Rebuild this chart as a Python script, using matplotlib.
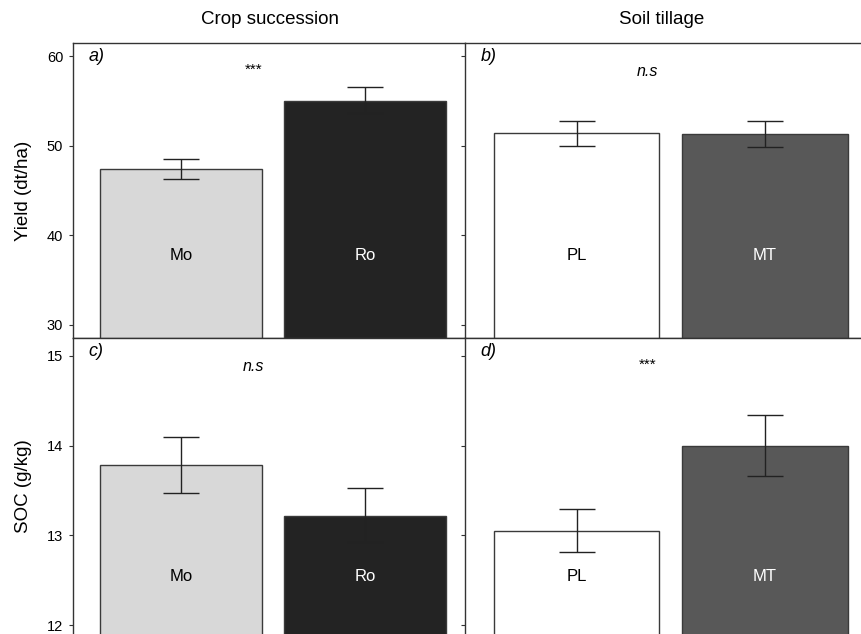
import matplotlib
matplotlib.use("Agg")
import matplotlib.pyplot as plt

plt.rcParams['font.family'] = ['Liberation Sans', 'DejaVu Sans']

# Group labels
succession = ["Mo", "Ro"]
tillage = ["PL", "MT"]

# Yield (dt/ha): means and error-bar bounds
yield_succ = [47.4, 55.0]
yield_succ_lo = [46.3, 53.6]
yield_succ_hi = [48.5, 56.5]
yield_till = [51.4, 51.3]
yield_till_lo = [50.0, 49.9]
yield_till_hi = [52.8, 52.7]

# SOC (g/kg): means and error-bar bounds
soc_succ = [13.78, 13.22]
soc_succ_lo = [13.47, 12.93]
soc_succ_hi = [14.10, 13.53]
soc_till = [13.05, 14.00]
soc_till_lo = [12.81, 13.66]
soc_till_hi = [13.29, 14.34]

succ_colors = ["#d8d8d8", "#232323"]
till_colors = ["#ffffff", "#585858"]
succ_text = ["black", "white"]
till_text = ["black", "white"]

W, H = 862, 634
fig = plt.figure(figsize=(W / 100, H / 100), dpi=100)

x_left, x_mid, x_right = 73 / W, 465 / W, 1.0
y_top, y_mid, y_bot = 1 - 43 / H, 1 - 338 / H, 0.0

ax_a = fig.add_axes([x_left, y_mid, x_mid - x_left, y_top - y_mid])
ax_b = fig.add_axes([x_mid, y_mid, x_right - x_mid, y_top - y_mid])
ax_c = fig.add_axes([x_left, y_bot, x_mid - x_left, y_mid - y_bot])
ax_d = fig.add_axes([x_mid, y_bot, x_right - x_mid, y_mid - y_bot])

panels = [
    (ax_a, succession, yield_succ, yield_succ_lo, yield_succ_hi, succ_colors, succ_text, "a)", "***", (28.55, 61.45), 37.8, (-0.587, 1.543)),
    (ax_b, tillage, yield_till, yield_till_lo, yield_till_hi, till_colors, till_text, "b)", "n.s", (28.55, 61.45), 37.8, (-0.592, 1.515)),
    (ax_c, succession, soc_succ, soc_succ_lo, soc_succ_hi, succ_colors, succ_text, "c)", "n.s", (11.9, 15.2), 12.54, (-0.587, 1.543)),
    (ax_d, tillage, soc_till, soc_till_lo, soc_till_hi, till_colors, till_text, "d)", "***", (11.9, 15.2), 12.54, (-0.592, 1.515)),
]

for ax, cats, vals, lo, hi, cols, tcols, tag, sig, ylim, label_y, xlim in panels:
    xs = list(range(len(cats)))
    ax.bar(xs, vals, width=0.88, color=cols, edgecolor="#3a3a3a", linewidth=1.0, zorder=2)
    err = [[v - l for v, l in zip(vals, lo)], [h - v for v, h in zip(vals, hi)]]
    ax.errorbar(xs, vals, yerr=err, fmt="none", ecolor="#222222", elinewidth=1.0,
                capsize=13, capthick=1.0, zorder=3)
    for x, c, tc in zip(xs, cats, tcols):
        ax.text(x, label_y, c, ha="center", va="center", fontsize=12, color=tc, zorder=4)
    ax.set_xlim(*xlim)
    ax.set_ylim(*ylim)
    ax.text(0.04, 0.955, tag, transform=ax.transAxes, fontsize=13, style="italic",
            ha="left", va="center")
    if sig == "n.s":
        ax.text(0.46, 0.905, sig, transform=ax.transAxes, fontsize=11.5, style="italic",
                ha="center", va="center")
    else:
        ax.text(0.46, 0.91, sig, transform=ax.transAxes, fontsize=11,
                ha="center", va="center")
    ax.spines["right"].set_visible(False)
    for s in ax.spines.values():
        s.set_color("#333333")
        s.set_linewidth(1.0)
    ax.tick_params(axis="y", direction="out", length=3, width=0.8, color="#333333",
                   labelsize=10.5, pad=4)
    ax.set_xticks(xs)
    ax.set_xticklabels([])
    ax.tick_params(axis="x", direction="out", length=2, width=0.8, color="#333333")

ax_a.set_yticks([30, 40, 50, 60])
ax_b.set_yticks([30, 40, 50, 60])
ax_b.set_yticklabels([])
ax_c.set_yticks([12, 13, 14, 15])
ax_d.set_yticks([12, 13, 14, 15])
ax_d.set_yticklabels([])
for ax in (ax_c, ax_d):
    ax.tick_params(axis="x", length=0)
    ax.spines["bottom"].set_visible(False)

ax_a.set_ylabel("Yield (dt/ha)", fontsize=13.5, labelpad=11)
ax_c.set_ylabel("SOC (g/kg)", fontsize=13.5, labelpad=11)

fig.text(270 / W, 1 - 20 / H, "Crop succession", ha="center", va="center", fontsize=13.5)
fig.text(662 / W, 1 - 20 / H, "Soil tillage", ha="center", va="center", fontsize=13.5)

fig.savefig("out.png", dpi=100)
